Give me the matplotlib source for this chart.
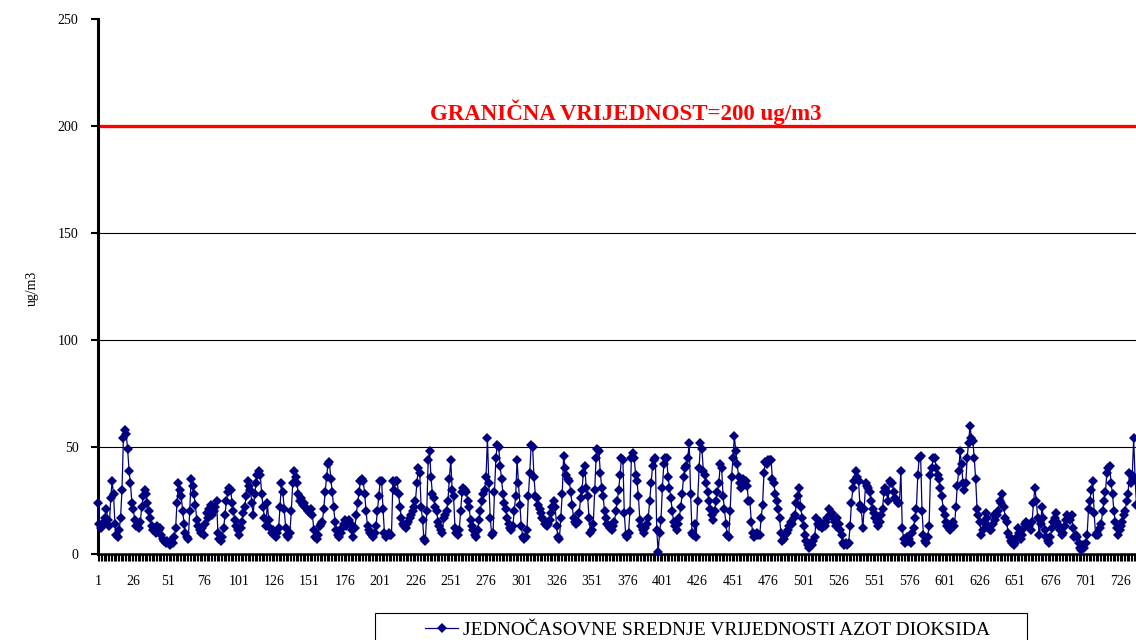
import matplotlib.pyplot as plt
from matplotlib.patches import Rectangle

# hourly NO2 values (ug/m3), hours 1..737 visible
no2 = [
    24, 14, 12, 13, 15, 17, 21, 16, 13, 26, 34, 28, 14, 9, 8, 11, 17, 30, 54, 58, 56, 49, 39, 33, 24,
    21, 16, 13, 14, 12, 15, 22, 27, 30, 28, 24, 20, 17, 13, 11, 12, 10, 13, 11, 12, 9, 7, 6, 5, 6,
    5, 4, 6, 5, 8, 12, 24, 33, 30, 27, 20, 14, 10, 8, 7, 20, 35, 32, 28, 23, 16, 13, 11, 10, 12,
    9, 14, 19, 17, 21, 23, 18, 20, 22, 25, 10, 7, 6, 8, 12, 18, 25, 29, 31, 30, 24, 20, 16, 13, 11,
    9, 12, 15, 19, 22, 27, 34, 32, 30, 24, 18, 28, 33, 37, 39, 37, 28, 22, 17, 13, 24, 16, 12, 10, 11,
    9, 8, 10, 12, 22, 33, 29, 21, 12, 9, 8, 10, 20, 33, 39, 36, 33, 28, 25, 26, 23, 24, 22, 21, 20,
    19, 21, 18, 11, 8, 7, 9, 13, 14, 15, 21, 29, 36, 42, 43, 35, 29, 22, 15, 11, 9, 8, 10, 12, 14,
    16, 13, 15, 16, 14, 11, 8, 12, 18, 24, 29, 34, 35, 34, 28, 20, 13, 11, 10, 9, 8, 10, 13, 20, 27,
    34, 34, 21, 10, 8, 9, 10, 9, 9, 34, 30, 34, 34, 28, 22, 17, 14, 13, 12, 14, 15, 17, 18, 20, 22,
    25, 33, 40, 38, 22, 16, 7, 6, 20, 44, 48, 36, 28, 26, 22, 20, 15, 13, 11, 10, 17, 18, 20, 25, 35,
    44, 30, 27, 12, 10, 9, 11, 20, 29, 31, 30, 29, 25, 22, 16, 13, 11, 9, 8, 11, 16, 20, 25, 28, 30,
    36, 54, 33, 17, 9, 10, 29, 45, 51, 50, 41, 35, 28, 24, 21, 17, 14, 12, 11, 13, 20, 27, 44, 33, 23,
    13, 8, 7, 8, 11, 27, 38, 51, 50, 36, 27, 26, 23, 21, 19, 17, 16, 14, 13, 14, 16, 19, 22, 25, 22,
    13, 8, 7, 17, 28, 46, 40, 37, 35, 34, 29, 23, 17, 15, 14, 15, 19, 26, 30, 38, 41, 31, 27, 17, 10,
    11, 14, 30, 45, 49, 48, 38, 31, 27, 20, 17, 14, 13, 12, 11, 13, 15, 20, 25, 30, 37, 45, 44, 19, 9,
    8, 10, 20, 45, 47, 45, 37, 34, 27, 16, 13, 11, 10, 12, 14, 17, 25, 33, 41, 44, 45, 11, 1, 10, 16,
    31, 42, 45, 45, 36, 31, 26, 20, 15, 13, 11, 14, 17, 22, 28, 36, 40, 41, 45, 52, 28, 10, 9, 14, 8,
    25, 40, 52, 49, 39, 37, 33, 29, 25, 21, 18, 16, 20, 25, 29, 33, 42, 40, 27, 21, 14, 9, 8, 20, 36,
    45, 55, 48, 42, 36, 33, 31, 35, 33, 34, 32, 25, 25, 15, 10, 8, 9, 10, 9, 9, 17, 23, 38, 43, 42,
    44, 44, 44, 35, 33, 28, 25, 21, 17, 10, 6, 7, 9, 10, 11, 13, 15, 14, 17, 18, 24, 27, 31, 22, 17,
    13, 9, 6, 4, 3, 5, 4, 6, 8, 17, 14, 13, 15, 12, 14, 13, 15, 17, 21, 18, 19, 17, 15, 13, 17,
    14, 11, 9, 5, 4, 5, 4, 5, 13, 24, 31, 34, 39, 36, 34, 23, 21, 12, 21, 33, 32, 31, 29, 25, 21,
    19, 17, 15, 13, 15, 18, 21, 29, 31, 29, 25, 34, 33, 33, 29, 26, 25, 24, 24, 39, 12, 7, 5, 8, 6,
    7, 5, 10, 12, 17, 21, 37, 45, 46, 20, 9, 6, 5, 8, 13, 37, 40, 45, 45, 40, 37, 35, 31, 27, 21,
    18, 15, 13, 12, 11, 13, 15, 13, 22, 32, 39, 48, 42, 33, 30, 33, 45, 52, 60, 54, 53, 45, 35, 21, 18,
    15, 9, 11, 15, 19, 17, 13, 11, 11, 14, 18, 16, 18, 20, 25, 24, 28, 22, 17, 15, 10, 8, 6, 5, 4,
    5, 8, 12, 10, 7, 9, 12, 14, 15, 14, 13, 11, 15, 24, 31, 25, 17, 9, 14, 22, 17, 11, 8, 6, 5,
    8, 12, 15, 17, 19, 15, 13, 11, 9, 10, 13, 16, 18, 17, 16, 18, 12, 8, 9, 8, 5, 3, 2, 4, 3,
    5, 9, 21, 25, 30, 34, 19, 9, 10, 9, 12, 14, 20, 25, 29, 38, 40, 41, 33, 28, 20, 15, 12, 9, 11,
    13, 15, 18, 20, 25, 28, 38, 33, 37, 54, 35, 23,
]
hours = list(range(1, len(no2) + 1))
n_hours = 744
limit = 200
limit_text = "GRANIČNA VRIJEDNOST=200 ug/m3"
series_name = "JEDNOČASOVNE SREDNJE VRIJEDNOSTI AZOT DIOKSIDA"

plt.rcParams['font.family'] = ['Liberation Serif', 'DejaVu Serif']

fig = plt.figure(figsize=(11.36, 6.4), dpi=100)
W, H = 1136, 640
# axes runs past the right border like the original crop
ax = fig.add_axes([98 / W, 1 - 554 / H, (743 * 1.411) / W, (554 - 19) / H])

ax.set_xlim(1, n_hours)
ax.set_ylim(0, 250)

for y in [50, 100, 150, 200]:
    ax.axhline(y, color='black', lw=0.8, zorder=1)
ax.axhline(limit, color='#FF0000', lw=2.4, zorder=2)
ax.text(375, 206.5, limit_text, color='#FF0000', fontsize=16.5, fontweight='bold',
        ha='center', va='center')

line, = ax.plot(hours, no2, color='#000080', lw=0.9, marker='D', markersize=4.6,
                markeredgewidth=0, zorder=3, clip_on=False)

# every hour gets a tick mark, labels every 25
ax.set_xticks(list(range(1, n_hours + 1)))
ax.set_xticklabels([str(h) if (h - 1) % 25 == 0 else '' for h in range(1, n_hours + 1)])
ax.tick_params(axis='x', length=5, width=0.8, pad=10, labelsize=10, direction='out')
ax.set_yticks([0, 50, 100, 150, 200, 250])
ax.tick_params(axis='y', length=5, width=1.5, pad=9, labelsize=10, direction='out')

for s in ['top', 'right']:
    ax.spines[s].set_visible(False)
ax.spines['left'].set_linewidth(2.2)
ax.spines['bottom'].set_linewidth(1.8)

fig.text(32 / W, 1 - 288 / H, 'ug/m3', rotation=90, ha='center', va='center', fontsize=10)

# legend box (cut by the bottom edge as in the original)
fig.patches.append(Rectangle((375 / W, -0.05), 652 / W, (640 - 613) / H + 0.05,
                             transform=fig.transFigure, fill=False, ec='black', lw=0.8))
fig.legend([line], [series_name], loc='center left', bbox_to_anchor=(425 / W, 1 - 630 / H),
           frameon=False, borderpad=0, borderaxespad=0, fontsize=14,
           handlelength=1.7, handletextpad=0.25)

fig.savefig('out.png', dpi=100)
